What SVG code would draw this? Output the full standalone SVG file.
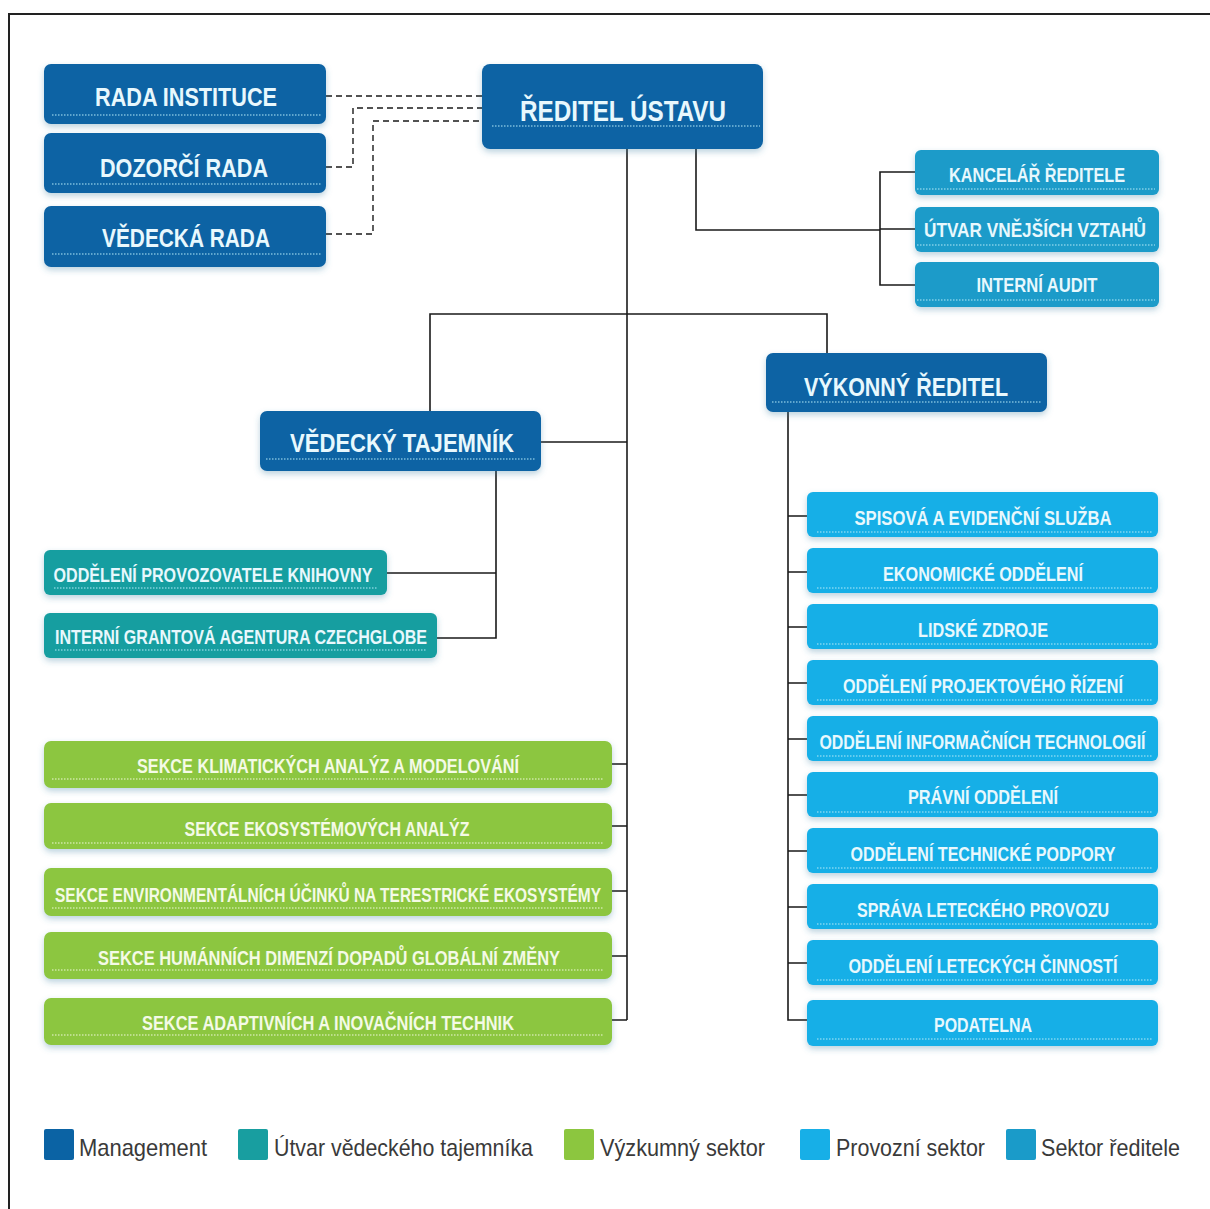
<svg xmlns="http://www.w3.org/2000/svg" width="1210" height="1209" viewBox="0 0 1210 1209">
<style>
  .frame{stroke:#222;stroke-width:2;fill:none}
  .box{filter:url(#sh)}
  .mg{fill:#0b63a4}
  .sr{fill:#1a9bc9}
  .vt{fill:#189ea0}
  .vy{fill:#8cc63f}
  .pr{fill:#17afe7}
  .ul{stroke:#b3e9f7;stroke-width:1.2;stroke-dasharray:1.5 1.5}
  .ulg{stroke:#eef8d8;stroke-width:1.2;stroke-dasharray:1.5 1.5}
  .t{font-family:"Liberation Sans Narrow","Liberation Sans",Arial,sans-serif;font-weight:bold;fill:#e8f8fd;text-anchor:middle}
  .tg{fill:#f4fae6}
  .big{font-size:26px}
  .xl{font-size:29px}
  .sm{font-size:20px}
  .md{font-size:21px}
  .c{stroke:#1a1a1a;stroke-width:1.6;fill:none}
  .d{stroke:#1a1a1a;stroke-width:1.4;fill:none;stroke-dasharray:6 4}
  .lg{font-family:"Liberation Sans",Arial,sans-serif;font-size:24px;fill:#3a3a3a}
</style>
<defs>
  <filter id="sh" x="-10%" y="-30%" width="120%" height="170%">
    <feDropShadow dx="0" dy="3" stdDeviation="3" flood-color="#3d7fa3" flood-opacity="0.35"/>
  </filter>
</defs>
<rect width="1210" height="1209" fill="#ffffff"/>
<path class="frame" d="M9,1209 V14 H1210"/>

<g id="connectors">
  <path class="d" d="M326,96 H482"/>
  <path class="d" d="M326,167 H353 V108 H482"/>
  <path class="d" d="M326,234 H373 V121 H482"/>
  <path class="c" d="M627,149 V1020"/>
  <path class="c" d="M696,149 V230 H880"/>
  <path class="c" d="M915,172 H880 V285 H915"/>
  <path class="c" d="M880,229 H915"/>
  <path class="c" d="M430,411 V314 H827 V353"/>
  <path class="c" d="M541,442 H627"/>
  <path class="c" d="M496,471 V638 H437"/>
  <path class="c" d="M387,573 H496"/>
  <path class="c" d="M612,764 H627 M612,826 H627 M612,891 H627 M612,956 H627 M612,1020 H627"/>
  <path class="c" d="M788,412 V1020 H807"/>
  <path class="c" d="M788,516 H807 M788,572 H807 M788,627 H807 M788,683 H807 M788,739 H807 M788,795 H807 M788,851 H807 M788,907 H807 M788,963 H807"/>
</g>

<g id="rada-instituce"><rect class="box mg" x="44" y="64" width="282" height="60" rx="7"/><line class="ul" x1="52" y1="115" x2="322" y2="115"/><text class="t big" x="186" y="106" textLength="182" lengthAdjust="spacingAndGlyphs">RADA INSTITUCE</text></g>
<g id="dozorci-rada"><rect class="box mg" x="44" y="133" width="282" height="60" rx="7"/><line class="ul" x1="52" y1="184" x2="322" y2="184"/><text class="t big" x="184" y="177" textLength="168" lengthAdjust="spacingAndGlyphs">DOZORČÍ RADA</text></g>
<g id="vedecka-rada"><rect class="box mg" x="44" y="206" width="282" height="61" rx="7"/><line class="ul" x1="52" y1="254" x2="322" y2="254"/><text class="t big" x="186" y="247" textLength="168" lengthAdjust="spacingAndGlyphs">VĚDECKÁ RADA</text></g>
<g id="reditel-ustavu"><rect class="box mg" x="482" y="64" width="281" height="85" rx="8"/><line class="ul" x1="492" y1="126" x2="760" y2="126"/><text class="t xl" x="623" y="121" textLength="206" lengthAdjust="spacingAndGlyphs">ŘEDITEL ÚSTAVU</text></g>

<g id="kancelar-reditele"><rect class="box sr" x="915" y="150" width="244" height="45" rx="6"/><line class="ul" x1="917" y1="189" x2="1155" y2="189"/><text class="t sm" x="1037" y="182" textLength="176" lengthAdjust="spacingAndGlyphs">KANCELÁŘ ŘEDITELE</text></g>
<g id="utvar-vnejsich-vztahu"><rect class="box sr" x="915" y="207" width="244" height="45" rx="6"/><line class="ul" x1="917" y1="245" x2="1155" y2="245"/><text class="t sm" x="1035" y="237" textLength="222" lengthAdjust="spacingAndGlyphs">ÚTVAR VNĚJŠÍCH VZTAHŮ</text></g>
<g id="interni-audit"><rect class="box sr" x="915" y="262" width="244" height="45" rx="6"/><line class="ul" x1="917" y1="300" x2="1155" y2="300"/><text class="t sm" x="1037" y="292" textLength="121" lengthAdjust="spacingAndGlyphs">INTERNÍ AUDIT</text></g>

<g id="vedecky-tajemnik"><rect class="box mg" x="260" y="411" width="281" height="60" rx="7"/><line class="ul" x1="266" y1="459" x2="535" y2="459"/><text class="t big" x="402" y="452" textLength="224" lengthAdjust="spacingAndGlyphs">VĚDECKÝ TAJEMNÍK</text></g>
<g id="vykonny-reditel"><rect class="box mg" x="766" y="353" width="281" height="59" rx="7"/><line class="ul" x1="772" y1="402" x2="1042" y2="402"/><text class="t big" x="906" y="396" textLength="204" lengthAdjust="spacingAndGlyphs">VÝKONNÝ ŘEDITEL</text></g>

<g id="oddeleni-provozovatele-knihovny"><rect class="box vt" x="44" y="550" width="343" height="45" rx="6"/><line class="ul" x1="54" y1="588" x2="377" y2="588"/><text class="t sm" x="213" y="582" textLength="319" lengthAdjust="spacingAndGlyphs">ODDĚLENÍ PROVOZOVATELE KNIHOVNY</text></g>
<g id="interni-grantova-agentura"><rect class="box vt" x="44" y="613" width="393" height="45" rx="6"/><line class="ul" x1="55" y1="650" x2="427" y2="650"/><text class="t sm" x="241" y="644" textLength="372" lengthAdjust="spacingAndGlyphs">INTERNÍ GRANTOVÁ AGENTURA CZECHGLOBE</text></g>

<g id="sekce-klimatickych"><rect class="box vy" x="44" y="741" width="568" height="47" rx="7"/><line class="ulg" x1="52" y1="779" x2="604" y2="779"/><text class="t tg md" x="328" y="773" textLength="382" lengthAdjust="spacingAndGlyphs">SEKCE KLIMATICKÝCH ANALÝZ A MODELOVÁNÍ</text></g>
<g id="sekce-ekosystemovych"><rect class="box vy" x="44" y="803" width="568" height="46" rx="7"/><line class="ulg" x1="52" y1="843" x2="604" y2="843"/><text class="t tg md" x="327" y="836" textLength="285" lengthAdjust="spacingAndGlyphs">SEKCE EKOSYSTÉMOVÝCH ANALÝZ</text></g>
<g id="sekce-environmentalnich"><rect class="box vy" x="44" y="868" width="568" height="48" rx="7"/><line class="ulg" x1="52" y1="908" x2="604" y2="908"/><text class="t tg md" x="328" y="902" textLength="546" lengthAdjust="spacingAndGlyphs">SEKCE ENVIRONMENTÁLNÍCH ÚČINKŮ NA TERESTRICKÉ EKOSYSTÉMY</text></g>
<g id="sekce-humannich"><rect class="box vy" x="44" y="932" width="568" height="47" rx="7"/><line class="ulg" x1="52" y1="970" x2="604" y2="970"/><text class="t tg md" x="329" y="965" textLength="462" lengthAdjust="spacingAndGlyphs">SEKCE HUMÁNNÍCH DIMENZÍ DOPADŮ GLOBÁLNÍ ZMĚNY</text></g>
<g id="sekce-adaptivnich"><rect class="box vy" x="44" y="998" width="568" height="47" rx="7"/><line class="ulg" x1="52" y1="1035" x2="604" y2="1035"/><text class="t tg md" x="328" y="1030" textLength="372" lengthAdjust="spacingAndGlyphs">SEKCE ADAPTIVNÍCH A INOVAČNÍCH TECHNIK</text></g>

<g id="spisova-sluzba"><rect class="box pr" x="807" y="492" width="351" height="45" rx="6"/><line class="ul" x1="817" y1="532" x2="1153" y2="532"/><text class="t sm" x="983" y="525" textLength="257" lengthAdjust="spacingAndGlyphs">SPISOVÁ A EVIDENČNÍ SLUŽBA</text></g>
<g id="ekonomicke-oddeleni"><rect class="box pr" x="807" y="548" width="351" height="45" rx="6"/><line class="ul" x1="817" y1="588" x2="1153" y2="588"/><text class="t sm" x="983" y="581" textLength="200" lengthAdjust="spacingAndGlyphs">EKONOMICKÉ ODDĚLENÍ</text></g>
<g id="lidske-zdroje"><rect class="box pr" x="807" y="604" width="351" height="45" rx="6"/><line class="ul" x1="817" y1="644" x2="1153" y2="644"/><text class="t sm" x="983" y="637" textLength="130" lengthAdjust="spacingAndGlyphs">LIDSKÉ ZDROJE</text></g>
<g id="projektove-rizeni"><rect class="box pr" x="807" y="660" width="351" height="45" rx="6"/><line class="ul" x1="817" y1="700" x2="1153" y2="700"/><text class="t sm" x="983" y="693" textLength="280" lengthAdjust="spacingAndGlyphs">ODDĚLENÍ PROJEKTOVÉHO ŘÍZENÍ</text></g>
<g id="informacni-technologie"><rect class="box pr" x="807" y="716" width="351" height="45" rx="6"/><line class="ul" x1="817" y1="756" x2="1153" y2="756"/><text class="t sm" x="982.5" y="749" textLength="326" lengthAdjust="spacingAndGlyphs">ODDĚLENÍ INFORMAČNÍCH TECHNOLOGIÍ</text></g>
<g id="pravni-oddeleni"><rect class="box pr" x="807" y="772" width="351" height="45" rx="6"/><line class="ul" x1="817" y1="812" x2="1153" y2="812"/><text class="t sm" x="983" y="804" textLength="150" lengthAdjust="spacingAndGlyphs">PRÁVNÍ ODDĚLENÍ</text></g>
<g id="technicke-podpory"><rect class="box pr" x="807" y="828" width="351" height="45" rx="6"/><line class="ul" x1="817" y1="868" x2="1153" y2="868"/><text class="t sm" x="983" y="861" textLength="265" lengthAdjust="spacingAndGlyphs">ODDĚLENÍ TECHNICKÉ PODPORY</text></g>
<g id="sprava-leteckeho-provozu"><rect class="box pr" x="807" y="884" width="351" height="45" rx="6"/><line class="ul" x1="817" y1="924" x2="1153" y2="924"/><text class="t sm" x="983" y="917" textLength="252" lengthAdjust="spacingAndGlyphs">SPRÁVA LETECKÉHO PROVOZU</text></g>
<g id="leteckych-cinnosti"><rect class="box pr" x="807" y="940" width="351" height="45" rx="6"/><line class="ul" x1="817" y1="980" x2="1153" y2="980"/><text class="t sm" x="983" y="973" textLength="269" lengthAdjust="spacingAndGlyphs">ODDĚLENÍ LETECKÝCH ČINNOSTÍ</text></g>
<g id="podatelna"><rect class="box pr" x="807" y="1000" width="351" height="46" rx="6"/><line class="ul" x1="817" y1="1039" x2="1153" y2="1039"/><text class="t sm" x="983" y="1032" textLength="98" lengthAdjust="spacingAndGlyphs">PODATELNA</text></g>

<g id="legend">
  <rect class="mg" x="44" y="1129" width="30" height="31" rx="2"/><text class="lg" x="79" y="1156" textLength="128" lengthAdjust="spacingAndGlyphs">Management</text>
  <rect class="vt" x="238" y="1129" width="30" height="31" rx="2"/><text class="lg" x="274" y="1156" textLength="259" lengthAdjust="spacingAndGlyphs">Útvar vědeckého tajemníka</text>
  <rect class="vy" x="564" y="1129" width="30" height="31" rx="2"/><text class="lg" x="600" y="1156" textLength="165" lengthAdjust="spacingAndGlyphs">Výzkumný sektor</text>
  <rect class="pr" x="800" y="1129" width="30" height="31" rx="2"/><text class="lg" x="836" y="1156" textLength="149" lengthAdjust="spacingAndGlyphs">Provozní sektor</text>
  <rect class="sr" x="1006" y="1129" width="30" height="31" rx="2"/><text class="lg" x="1041" y="1156" textLength="139" lengthAdjust="spacingAndGlyphs">Sektor ředitele</text>
</g>
</svg>
